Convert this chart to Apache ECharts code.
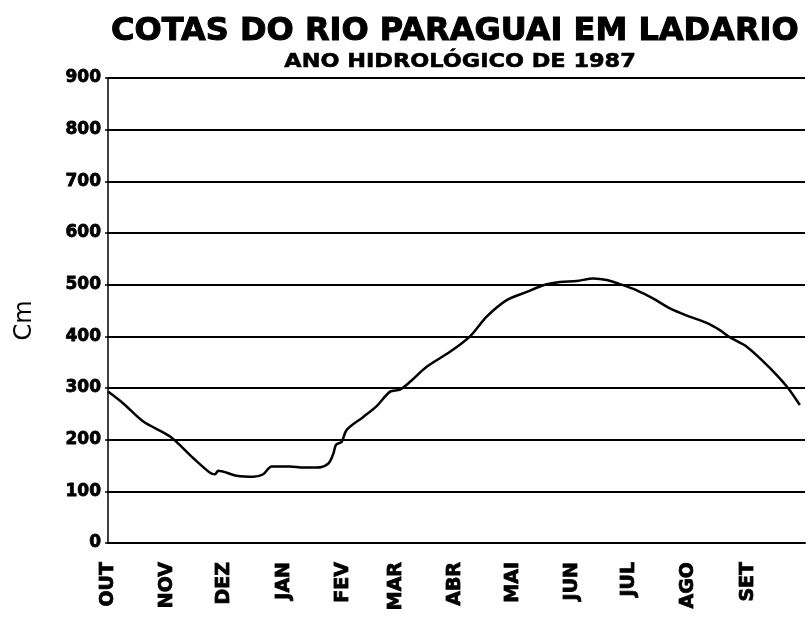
<!DOCTYPE html>
<html>
<head>
<meta charset="utf-8">
<script src="https://cdn.jsdelivr.net/npm/echarts@6/dist/echarts.min.js"></script>
<style>html,body{margin:0;padding:0;background:#fff;}#chart{width:807px;height:617px;}</style>
</head>
<body>
<div id="chart"></div>
<script>
// Month labels (hydrological year, Oct–Sep) and their start day
const monthLabels = ['OUT','NOV','DEZ','JAN','FEV','MAR','ABR','MAI','JUN','JUL','AGO','SET'];
const monthStartDays = [0,31,61,92,123,151,182,212,243,273,304,335];
// Y-axis ticks (cm)
const yTicks = [0,100,200,300,400,500,600,700,800,900];
// Day of hydrological year (from 1 Oct)
const days = [0,8,18.5,32.5,44.7,53.4,56,57.8,62.2,67.4,76.1,81.3,85.7,95.3,102.3,109.3,115.4,118,119.4,122.4,125,133.7,140.7,147.7,152.9,158.2,166.9,179.1,189.6,198.3,208.8,219.3,228,236.7,245.4,254.2,261.2,268.1,276.9,285.6,294.3,303.1,313.5,320.4,325.7,334.5,343.2,350.2,356.3,362.3];
// River level at Ladário (cm)
const levels = [293,270,235,206,164,136,133,140,136,130,128,133,148,148,146,146,154,173,190,196,219,244,265,293,297,312,341,370,400,438,470,486,499,505,507,512,509,501,489,473,454,440,426,412,398,380,351,325,299,267];

const chart = echarts.init(document.getElementById('chart'));
const font = 'DejaVu Sans';
chart.setOption({
  animation: false,
  backgroundColor: '#fff',
  title: [
    {text: 'COTAS DO RIO PARAGUAI EM LADARIO', left: 106, top: 11,
     textStyle: {fontFamily: font, fontWeight: 'bold', fontSize: 32, color: '#000',
       textBorderColor: '#000', textBorderWidth: 1}}
  ],
  graphic: [
    {type: 'text', left: 284, top: 51, scaleX: 1.12,
     style: {text: 'ANO HIDROLÓGICO DE 1987', fontFamily: font, fontWeight: 'bold', fontSize: 20, fill: '#000',
       stroke: '#000', lineWidth: 0.6}}
  ],
  grid: {left: 108, right: 2, top: 78, bottom: 74, containLabel: false},
  xAxis: {
    type: 'value', min: 0, max: 365,
    axisLine: {show: true, lineStyle: {color: '#000', width: 2}},
    axisTick: {show: false},
    splitLine: {show: false},
    axisLabel: {
      customValues: monthStartDays,
      formatter: v => monthLabels[monthStartDays.indexOf(v)] || '',
      rotate: 90, margin: 19, fontFamily: font, fontWeight: 'bold', fontSize: 19, color: '#000',
      textBorderColor: '#000', textBorderWidth: 0.8
    }
  },
  yAxis: {
    type: 'value', min: 0, max: 900, interval: 100,
    name: 'Cm', nameLocation: 'middle', nameGap: 71, nameRotate: 90,
    nameTextStyle: {fontFamily: font, fontSize: 24, color: '#000', padding: [0, 20, 0, 0]},
    axisLine: {show: true, lineStyle: {color: '#000', width: 1.5}},
    axisTick: {show: true, length: 3, lineStyle: {color: '#000', width: 1.5}},
    splitLine: {show: true, lineStyle: {color: '#000', width: 2}},
    axisLabel: {margin: 7, fontFamily: font, fontWeight: 'bold', fontSize: 17, color: '#000',
      textBorderColor: '#000', textBorderWidth: 0.8,
      formatter: v => yTicks.indexOf(v) >= 0 ? String(v) : ''}
  },
  series: [{
    type: 'line',
    data: days.map((d, i) => [d, levels[i]]),
    showSymbol: false,
    smooth: 0.3,
    lineStyle: {color: '#000', width: 2.5},
    z: 5
  }]
});
</script>
</body>
</html>
